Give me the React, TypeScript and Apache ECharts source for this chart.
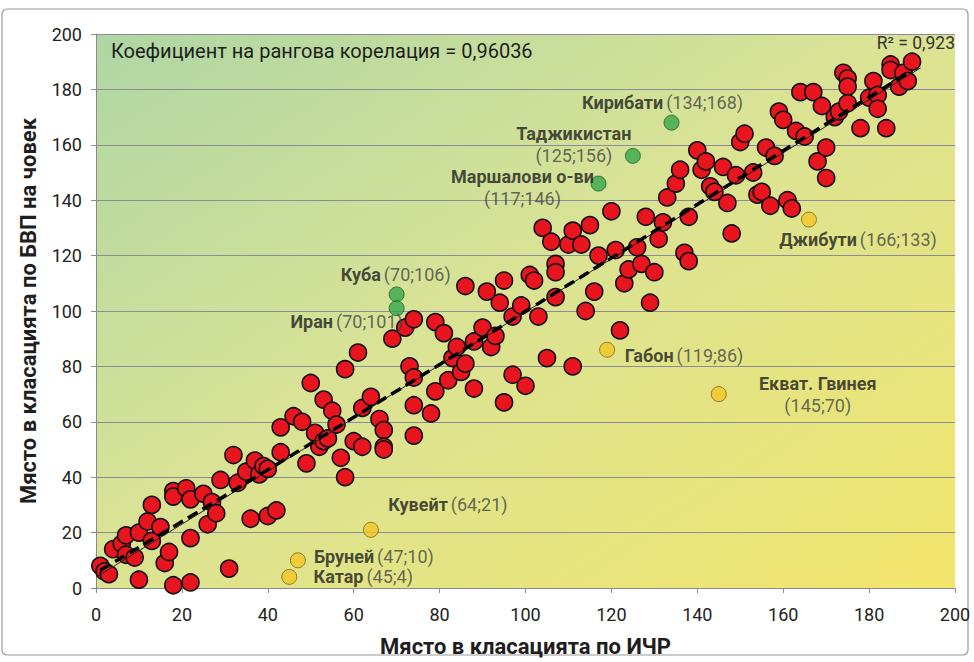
import React, { useEffect, useRef } from "react";
import * as echarts from "echarts";

// HDI rank (x) and GDP per capita rank (y) for countries (red points)
const hdiRank = [1,2,3,4,6,7,7,9,10,10,12,13,13,15,16,17,18,18,18,21,22,22,22,25,26,27,28,29,31,32,33,35,36,37,38,39,40,40,42,43,43,46,48,49,50,51,52,53,53,54,55,56,57,58,58,60,61,62,62,64,66,67,67,67,69,72,73,74,74,74,74,78,79,79,81,82,83,84,85,86,86,88,88,90,91,92,93,94,95,95,97,97,99,100,101,102,103,104,105,106,107,107,107,110,111,111,113,114,115,116,117,120,121,122,123,124,126,127,128,129,130,131,132,133,135,136,137,138,138,140,141,142,143,144,146,147,148,149,150,151,153,154,155,156,157,158,159,160,161,162,163,164,165,167,168,169,170,170,172,173,174,175,175,175,178,180,181,182,182,184,185,185,187,188,189,190];
const gdpRank = [8,6,5,14,16,19,12,11,20,3,24,30,17,22,9,13,35,33,1,36,32,18,2,34,23,31,27,39,7,48,38,42,25,46,41,44,43,26,28,49,58,62,60,45,74,56,51,68,53,54,64,59,47,79,40,53,85,65,51,69,61,57,51,50,90,94,80,97,76,66,55,63,96,71,92,75,83,87,78,81,109,72,89,94,107,87,91,103,111,67,98,77,102,73,113,111,98,130,83,125,117,114,105,124,129,80,124,100,131,107,120,136,122,93,110,115,123,117,134,103,114,126,132,141,146,151,121,134,118,158,151,154,145,143,152,139,128,149,161,164,150,142,143,159,138,156,172,169,140,137,165,179,163,179,154,174,159,148,170,172,186,184,181,175,166,177,183,178,173,166,189,187,181,186,183,190];

// Highlighted countries
const labelNames = ["Кирибати", "Таджикистан", "Маршалови о-ви", "Куба", "Иран", "Джибути", "Габон", "Екват. Гвинея", "Кувейт", "Бруней", "Катар"];
const labelHdi = [134, 125, 117, 70, 70, 166, 119, 145, 64, 47, 45];
const labelGdp = [168, 156, 146, 106, 101, 133, 86, 70, 21, 10, 4];
const labelGroup = ["green", "green", "green", "green", "green", "yellow", "yellow", "yellow", "yellow", "yellow", "yellow"];

const axisMin = 0;
const axisMax = 200;
const axisStep = 20;
const xTitle = "Място в класацията по ИЧР";
const yTitle = "Място в класацията по БВП на човек";
const correlationText = "Коефициент на рангова корелация = 0,96036";
const r2Text = "R² = 0,923";

// label layout (style): offset from point centre, two-line flag
const labelLayout: Record<string, { off: [number, number]; twoLines: boolean }> = {
  "Кирибати": { off: [-9, -20], twoLines: false },
  "Таджикистан": { off: [-59, -11], twoLines: true },
  "Маршалови о-ви": { off: [-76, 4], twoLines: true },
  "Куба": { off: [-1, -20], twoLines: false },
  "Иран": { off: [-50, 13], twoLines: false },
  "Джибути": { off: [49, 20], twoLines: false },
  "Габон": { off: [77, 6], twoLines: false },
  "Екват. Гвинея": { off: [99, 0], twoLines: true },
  "Кувейт": { off: [77, -25], twoLines: false },
  "Бруней": { off: [76, -4], twoLines: false },
  "Катар": { off: [74, 0], twoLines: false },
};

function linearFit(xs: number[], ys: number[]) {
  const n = xs.length;
  let sx = 0, sy = 0, sxx = 0, sxy = 0;
  for (let i = 0; i < n; i++) {
    sx += xs[i]; sy += ys[i]; sxx += xs[i] * xs[i]; sxy += xs[i] * ys[i];
  }
  const b = (n * sxy - sx * sy) / (n * sxx - sx * sx);
  const a = (sy - b * sx) / n;
  return { a, b };
}

function polyFit(xs: number[], ys: number[], deg: number) {
  const s = 200;
  const m = deg + 1;
  const A: number[][] = Array.from({ length: m }, () => new Array(m + 1).fill(0));
  for (let i = 0; i < xs.length; i++) {
    const x = xs[i] / s;
    const pw: number[] = [];
    for (let k = 0; k < 2 * m; k++) pw.push(Math.pow(x, k));
    for (let r = 0; r < m; r++) {
      for (let c = 0; c < m; c++) A[r][c] += pw[r + c];
      A[r][m] += pw[r] * ys[i];
    }
  }
  for (let col = 0; col < m; col++) {
    let piv = col;
    for (let r = col + 1; r < m; r++) if (Math.abs(A[r][col]) > Math.abs(A[piv][col])) piv = r;
    [A[col], A[piv]] = [A[piv], A[col]];
    for (let r = 0; r < m; r++) {
      if (r === col) continue;
      const f = A[r][col] / A[col][col];
      for (let c = col; c <= m; c++) A[r][c] -= f * A[col][c];
    }
  }
  const coef = A.map((row, i) => row[m] / row[i]);
  return (x: number) => coef.reduce((acc, c, k) => acc + c * Math.pow(x / s, k), 0);
}

export default function App() {
  const ref = useRef<HTMLDivElement>(null);

  useEffect(() => {
    if (!ref.current) return;
    const chart = echarts.init(ref.current, undefined, { renderer: "svg" });

    const allX = hdiRank.concat(labelHdi);
    const allY = gdpRank.concat(labelGdp);
    const lin = linearFit(allX, allY);
    const poly = polyFit(hdiRank, gdpRank, 3);
    const xMinData = Math.min(...allX);
    const xMaxData = Math.max(...allX);

    const thinLine: number[][] = [];
    const dashLine: number[][] = [];
    for (let i = 0; i <= 60; i++) {
      const x = xMinData + ((xMaxData - xMinData) * i) / 60;
      dashLine.push([x, poly(x)]);
    }
    const thinStart = 0;
    const thinEnd = xMaxData + 2;
    thinLine.push([thinStart, lin.a + lin.b * thinStart]);
    thinLine.push([thinEnd, lin.a + lin.b * thinEnd]);

    const font = "Roboto, 'Open Sans', sans-serif";

    const labeled = labelNames.map((name, i) => {
      const lay = labelLayout[name];
      const isGreen = labelGroup[i] === "green";
      const coord = `(${labelHdi[i]};${labelGdp[i]})`;
      return {
        value: [labelHdi[i], labelGdp[i]],
        itemStyle: {
          color: isGreen ? "#36a84a" : "#f4c623",
          borderColor: isGreen ? "#1f5f2a" : "#7a6420",
          borderWidth: 1,
        },
        label: {
          show: true,
          position: "inside",
          offset: lay.off,
          align: "center",
          formatter: lay.twoLines ? `{b|${name}}\n{n|${coord}}` : `{b|${name}} {n|${coord}}`,
          rich: {
            b: { fontFamily: font, fontWeight: "bold", fontSize: 18, color: "#1e1e1e", lineHeight: 22 },
            n: { fontFamily: font, fontSize: 18, color: "#444", lineHeight: 22 },
          },
          textBorderWidth: 0,
        },
      };
    });

    const option: any = {
      animation: false,
      backgroundColor: "#ffffff",
      textStyle: { fontFamily: font },
      grid: {
        left: 96,
        right: 19,
        top: 34,
        bottom: 73,
        show: true,
        borderWidth: 0,
        backgroundColor: new echarts.graphic.LinearGradient(0, 0, 1, 1, [
          { offset: 0, color: "#aed6a4" },
          { offset: 0.45, color: "#d9e396" },
          { offset: 1, color: "#f3e56b" },
        ]),
      },
      xAxis: {
        type: "value",
        min: axisMin,
        max: axisMax,
        interval: axisStep,
        name: xTitle,
        nameLocation: "middle",
        nameGap: 47,
        nameTextStyle: { fontFamily: font, fontWeight: "bold", fontSize: 22, color: "#1e1e1e" },
        axisLine: { show: true, lineStyle: { color: "#8a8a8a", width: 1 } },
        axisTick: { show: true, length: 5, lineStyle: { color: "#8a8a8a" } },
        axisLabel: { fontFamily: font, fontSize: 18, color: "#222", margin: 17 },
        splitLine: { show: false },
      },
      yAxis: {
        type: "value",
        min: axisMin,
        max: axisMax,
        interval: axisStep,
        name: yTitle,
        nameLocation: "middle",
        nameGap: 57,
        nameRotate: 90,
        nameTextStyle: { fontFamily: font, fontWeight: "bold", fontSize: 22, color: "#1e1e1e" },
        axisLine: { show: true, lineStyle: { color: "#8a8a8a", width: 1 } },
        axisTick: { show: true, length: 5, lineStyle: { color: "#8a8a8a" } },
        axisLabel: { fontFamily: font, fontSize: 18, color: "#222", margin: 14 },
        splitLine: { show: true, lineStyle: { color: "#8c8c98", width: 1 } },
      },
      graphic: [
        {
          type: "rect",
          silent: true,
          shape: { x: 2, y: 9, width: 966, height: 646, r: 5 },
          style: { fill: "none", stroke: "#9a9a9a", lineWidth: 1.2 },
          z: -1,
        },
        {
          type: "text",
          left: 111,
          top: 41,
          style: { text: correlationText, font: `20px ${font}`, fill: "#1e1e1e" },
          z: 10,
        },
        {
          type: "text",
          right: 19,
          top: 34,
          style: { text: r2Text, font: `17.5px ${font}`, fill: "#333" },
          z: 10,
        },
      ],
      series: [
        {
          type: "scatter",
          data: hdiRank.map((x, i) => [x, gdpRank[i]]),
          symbol: "circle",
          symbolSize: 17,
          itemStyle: { color: "#e8141e", borderColor: "#111", borderWidth: 1.6, opacity: 1 },
          z: 2,
          silent: true,
        },
        {
          type: "line",
          data: thinLine,
          showSymbol: false,
          lineStyle: { color: "#222", width: 1 },
          z: 3,
          silent: true,
        },
        {
          type: "line",
          data: dashLine,
          showSymbol: false,
          smooth: true,
          lineStyle: { color: "#000", width: 3.5, type: [11, 6] },
          z: 4,
          silent: true,
        },
        {
          type: "scatter",
          data: labeled,
          symbol: "circle",
          symbolSize: 15,
          z: 5,
          silent: true,
        },
      ],
    };

    chart.setOption(option);
    return () => chart.dispose();
  }, []);

  return (
    <div
      ref={ref}
      style={{ position: "absolute", left: 0, top: 0, width: 974, height: 662, background: "#fff" }}
    />
  );
}
